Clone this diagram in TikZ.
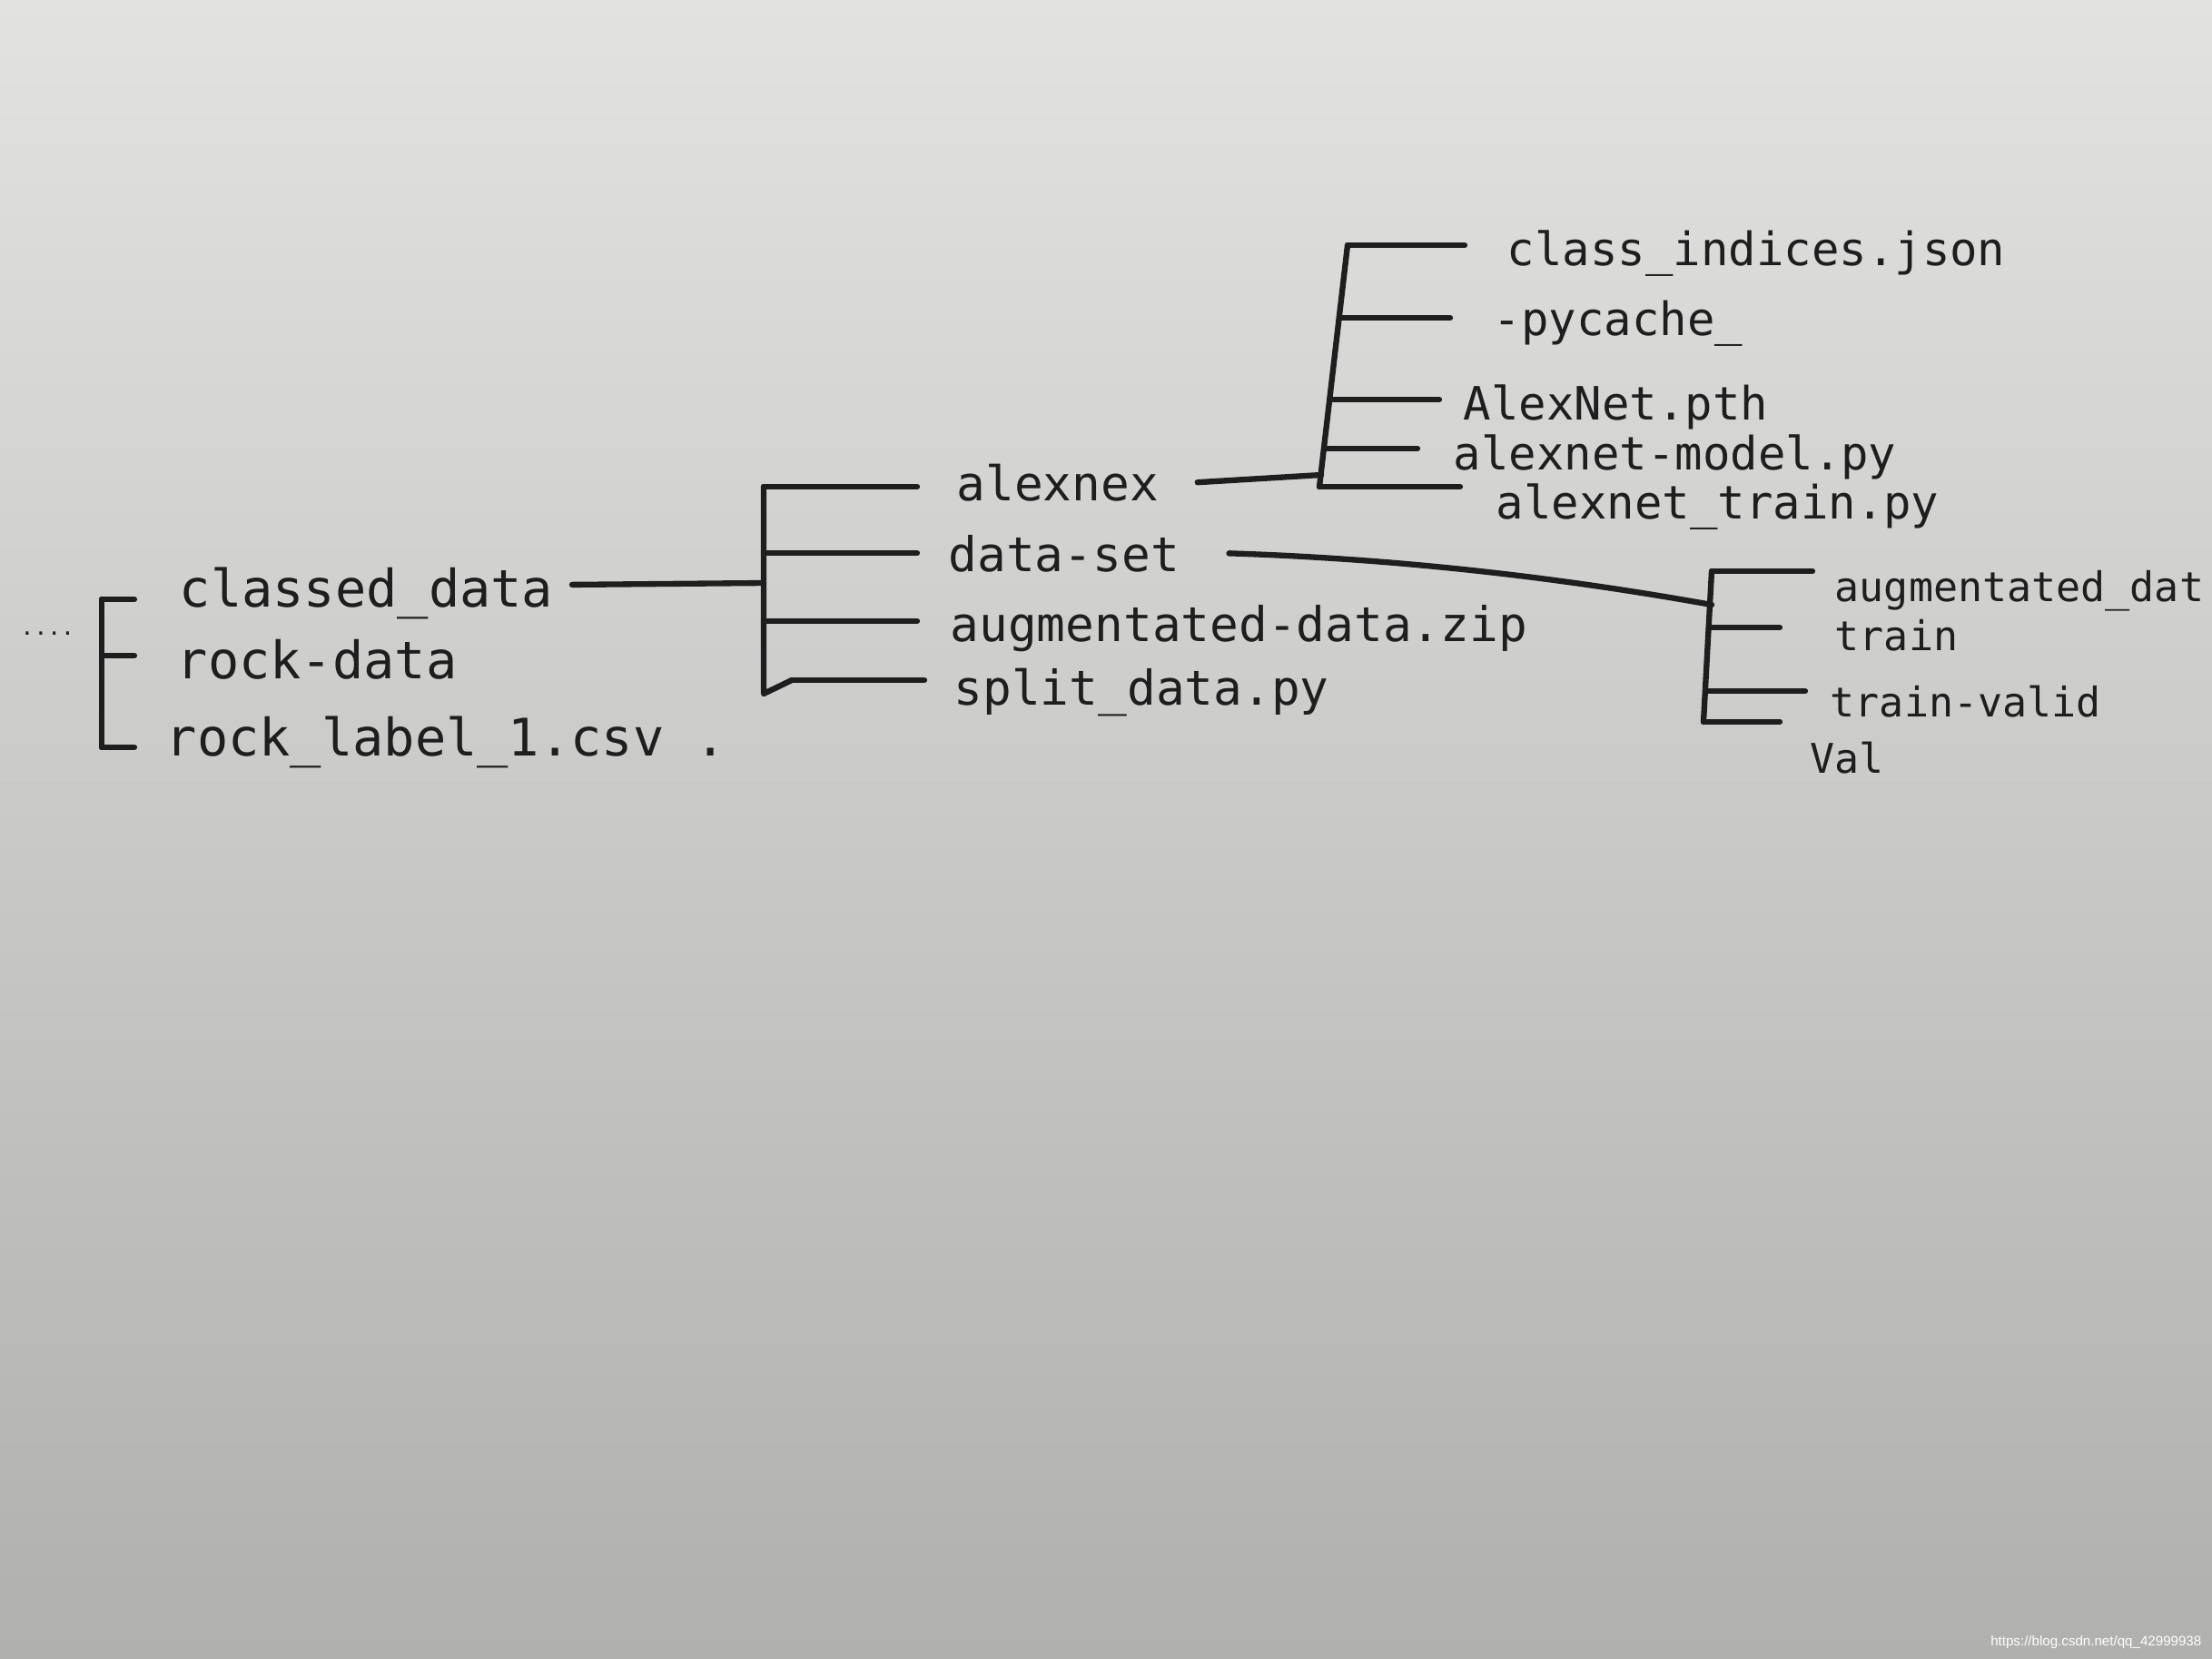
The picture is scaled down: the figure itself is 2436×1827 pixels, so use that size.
\documentclass[tikz,border=0pt]{standalone}
\usepackage{fontspec}
\setmonofont{DejaVu Sans Mono}
\newfontfamily\urlfont{Liberation Sans}
\definecolor{ink}{RGB}{30,30,30}
\definecolor{paperTop}{RGB}{226,226,225}
\definecolor{paperMid}{RGB}{214,214,212}
\definecolor{paperLow}{RGB}{176,176,174}

\begin{document}
\begin{tikzpicture}[x=0.01cm, y=-0.01cm,
	every node/.style={text=ink, inner sep=0pt, anchor=base west},
	wire/.style={draw=ink, line width=1.8pt, line cap=round, line join=round}]
	\shade[top color=paperTop, middle color=paperMid, bottom color=paperLow] (0,0) rectangle (2436,1827);
	\useasboundingbox (0,0) rectangle (2436,1827);

	\begin{scope}[every node/.append style={font=\ttfamily\fontsize{16.2}{19}\selectfont}]
		\node[font=\ttfamily\fontsize{7}{7}\selectfont, anchor=west] (dots) at (22,698) {....};
		\node (cdata) at (197,668) {classed\_data};
		\node (rdata) at (194,747) {rock-data};
		\node (rlabel) at (182,832) {rock\_label\_1.csv\hspace{0.6em}.};
		\coordinate (s1a) at (112,660);
		\coordinate (s1b) at (112,722);
		\coordinate (s1c) at (112,823);
		\draw[wire] (s1a) -- (s1c);
		\foreach \s/\n/\g in {s1a/cdata/4.9mm, s1b/rdata/4.6mm, s1c/rlabel/3.4mm}
			\draw[wire, shorten >=\g] (\s) -- (\s -| \n.west);
	\end{scope}

	\begin{scope}[every node/.append style={font=\ttfamily\fontsize{15}{18}\selectfont}]
		\node (alexnex) at (1053,551) {alexnex};
		\node (dset) at (1044,629) {data-set};
		\node (azip) at (1046,706) {augmentated-data.zip};
		\node (split) at (1050,776) {split\_data.py};
		\coordinate (s2a) at (841,536);
		\coordinate (s2b) at (841,609);
		\coordinate (j2) at (841,642);
		\coordinate (s2c) at (841,684);
		\coordinate (s2d) at (841,764);
		\coordinate (s2e) at (872,749);
		\draw[wire] (s2a) -- (s2d) -- (s2e);
		\foreach \s/\n/\g in {s2a/alexnex/4.3mm, s2b/dset/3.4mm, s2c/azip/3.6mm, s2e/split/3.2mm}
			\draw[wire, shorten >=\g] (\s) -- (\s -| \n.west);
		\draw[wire] ([shift={(2mm,0.9mm)}]cdata.east) -- (j2);
	\end{scope}

	\begin{scope}[every node/.append style={font=\ttfamily\fontsize{14.4}{17}\selectfont}]
		\node (cidx) at (1659,292) {class\_indices.json};
		\node (pyc) at (1644,369) {-pycache\_};
		\node (pth) at (1611,462) {AlexNet.pth};
		\node (model) at (1600,517) {alexnet-model.py};
		\node (trainpy) at (1647,571) {alexnet\_train.py};
		\coordinate (s3a) at (1484,270);
		\coordinate (s3b) at (1475,350);
		\coordinate (s3c) at (1465,440);
		\coordinate (s3d) at (1459,494);
		\coordinate (j3) at (1455,523);
		\coordinate (s3e) at (1453,536);
		\draw[wire] (s3a) -- (s3e);
		\foreach \s/\n/\g in {s3a/cidx/4.6mm, s3b/pyc/4.7mm, s3c/pth/2.6mm, s3d/model/3.9mm, s3e/trainpy/3.9mm}
			\draw[wire, shorten >=\g] (\s) -- (\s -| \n.west);
		\draw[wire] ([xshift=4.2mm]alexnex.east) -- (j3);
	\end{scope}

	\begin{scope}[every node/.append style={font=\ttfamily\fontsize{12.8}{15}\selectfont}]
		\node (aug) at (2020,662) {augmentated\_dat};
		\node (train) at (2020,716) {train};
		\node (tvalid) at (2015,789) {train-valid};
		\node (val) at (1993,851) {Val};
		\coordinate (s4a) at (1885,629);
		\coordinate (j4) at (1885,666);
		\coordinate (s4b) at (1883,691);
		\coordinate (s4c) at (1879,761);
		\coordinate (s4d) at (1876,795);
		\draw[wire] (s4a) -- (s4d);
		\foreach \s/\n/\g in {s4a/aug/2.4mm, s4b/train/6mm, s4c/tvalid/2.7mm, s4d/val/3.3mm}
			\draw[wire, shorten >=\g] (\s) -- (\s -| \n.west);
		\draw[wire] ([xshift=5.4mm]dset.east) .. controls (1560,616) and (1740,640) .. (j4);
	\end{scope}

	\node[font=\urlfont\fontsize{4.3}{5}\selectfont, text=white, anchor=base east] (url) at (2425,1812) {https://blog.csdn.net/qq\_42999938};
\end{tikzpicture}
\end{document}
